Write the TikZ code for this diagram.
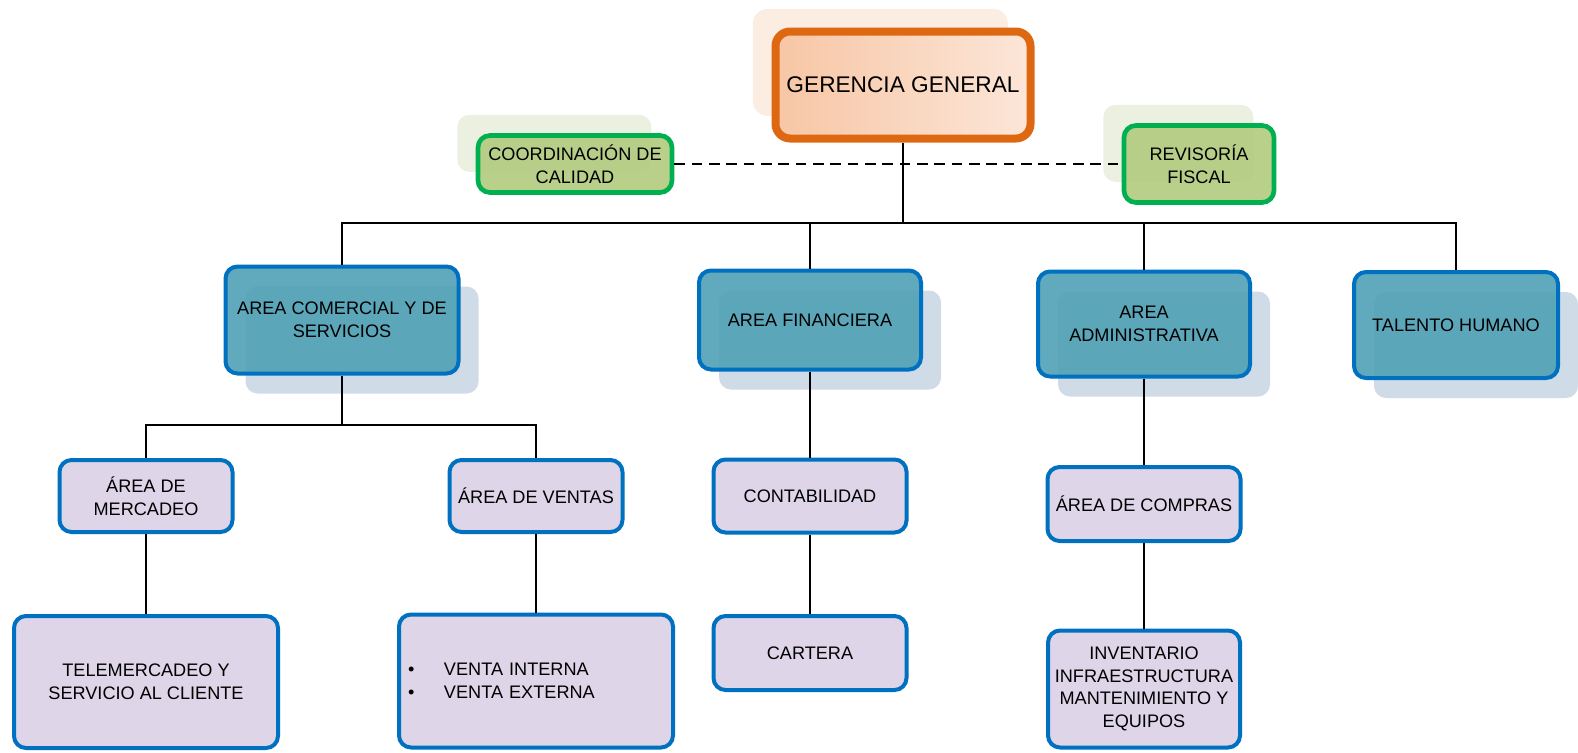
\documentclass[tikz,border=0pt]{standalone}
\usepackage{fontspec}
\setmainfont{Liberation Sans}
\usetikzlibrary{shadows}
\definecolor{orline}{RGB}{222,104,18}
\definecolor{orfill}{RGB}{247,198,165}
\definecolor{orlight}{RGB}{252,230,216}
\definecolor{orshadow}{RGB}{252,237,226}
\definecolor{grline}{RGB}{0,176,80}
\definecolor{grfill}{RGB}{178,204,128}
\definecolor{grshadow}{RGB}{234,239,222}
\definecolor{blline}{RGB}{0,112,192}
\definecolor{tlfill}{RGB}{80,160,181}
\definecolor{tlshadow}{RGB}{203,215,230}
\definecolor{lvfill}{RGB}{222,214,232}

\begin{document}
\begin{tikzpicture}[
  x=0.75pt, y=-0.75pt,
  sz/.style 2 args={minimum width=#1*0.75pt, minimum height=#2*0.75pt},
  box/.style={rounded corners=9pt, align=center, inner sep=3pt, font=\fontsize{13.6}{17}\selectfont},
  jefe/.style={box, draw=orline, line width=6pt, left color=orfill, right color=orlight, rounded corners=11pt,
    font=\fontsize{17}{20}\selectfont, general shadow={fill=orshadow, shadow xshift=-17pt, shadow yshift=17pt}},
  staff/.style={box, draw=grline, line width=3.5pt, fill=grfill, fill opacity=0.92, text opacity=1,
    general shadow={fill=grshadow, shadow xshift=-15.5pt, shadow yshift=15.5pt}},
  area/.style={box, draw=blline, line width=3pt, fill=tlfill, fill opacity=0.9, text opacity=1,
    general shadow={fill=tlshadow, shadow xshift=15pt, shadow yshift=-15pt}},
  sub/.style={box, draw=blline, line width=3pt, fill=lvfill},
  link/.style={line width=1.6pt},
  staffline/.style={line width=1.1pt, dash pattern=on 8pt off 5pt}
]
\useasboundingbox (0,0) rectangle (1578,753);
\node[jefe, sz={255}{107}] (gerencia) at (903,85) {GERENCIA GENERAL};
\node[staff, sz={194}{57}] (calidad) at (575,164) {COORDINACIÓN DE\\CALIDAD};
\node[staff, sz={150}{77}] (revisoria) at (1199,164) {REVISORÍA\\FISCAL};
\node[area, sz={233}{107}] (comercial) at (342,320) {AREA COMERCIAL Y DE\\SERVICIOS};
\node[area, sz={222}{99}] (financiera) at (810,320) {AREA FINANCIERA};
\node[area, sz={212}{105}] (administrativa) at (1144,324) {AREA\\ADMINISTRATIVA};
\node[area, sz={204}{106}] (talento) at (1456,325) {TALENTO HUMANO};
\node[sub, sz={173}{72}] (mercadeo) at (146,496) {ÁREA DE\\MERCADEO};
\node[sub, sz={173}{72}] (ventas) at (536,496) {ÁREA DE VENTAS};
\node[sub, sz={193}{73}] (contabilidad) at (810,496) {CONTABILIDAD};
\node[sub, sz={193}{74}] (compras) at (1144,504) {ÁREA DE COMPRAS};
\node[sub, sz={264}{132}] (telemercadeo) at (146,682) {TELEMERCADEO Y\\SERVICIO AL CLIENTE};
\node[sub, sz={274}{133}, align=left, text width=256*0.75pt] (venta) at (536,681)
  {\makebox[27pt][l]{\textbullet}VENTA INTERNA\\\makebox[27pt][l]{\textbullet}VENTA EXTERNA};
\node[sub, sz={193}{74}] (cartera) at (810,653) {CARTERA};
\node[sub, sz={192}{117}] (inventario) at (1144,689) {INVENTARIO\\INFRAESTRUCTURA\\MANTENIMIENTO Y\\EQUIPOS};
% lineas
\coordinate (bus) at (903,223);
\coordinate (bus2) at (342,425);
\draw[staffline] (calidad.east) -- (revisoria.west);
\draw[link] (gerencia.south) -- (bus);
\draw[link] (bus) -| (comercial.north); \draw[link] (bus) -| (financiera.north);
\draw[link] (bus) -| (administrativa.north); \draw[link] (bus) -| (talento.north);
\draw[link] (comercial.south) -- (bus2);
\draw[link] (bus2) -| (mercadeo.north); \draw[link] (bus2) -| (ventas.north);
\draw[link] (mercadeo.south) -- (telemercadeo.north);
\draw[link] (ventas.south) -- (venta.north);
\draw[link] (financiera.south) -- (contabilidad.north);
\draw[link] (contabilidad.south) -- (cartera.north);
\draw[link] (administrativa.south) -- (compras.north);
\draw[link] (compras.south) -- (inventario.north);
\end{tikzpicture}
\end{document}
